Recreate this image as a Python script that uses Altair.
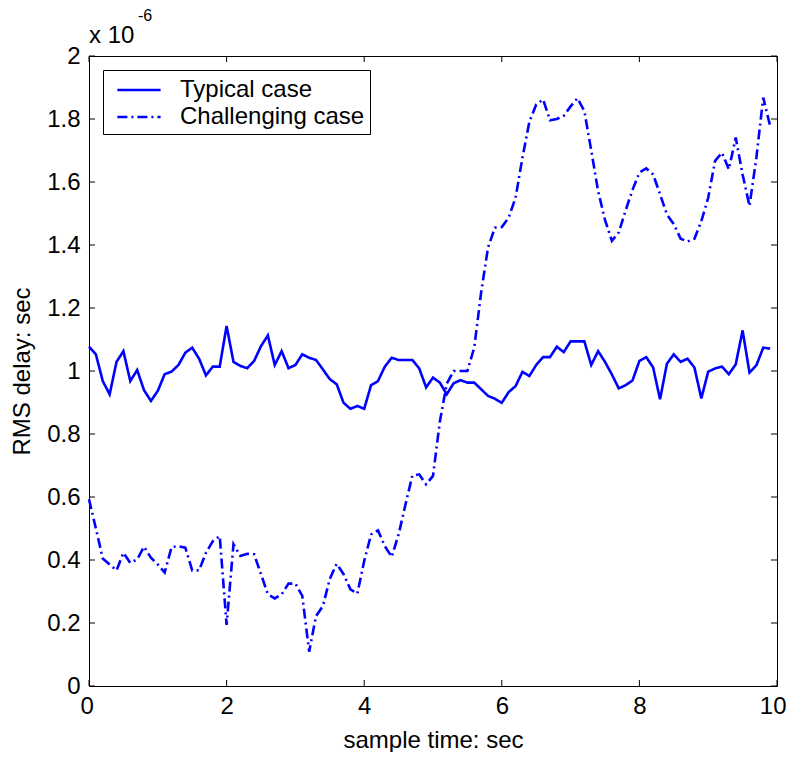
import altair as alt
import pandas as pd

t_vals = [round(i * 0.1, 1) for i in range(100)]

typical = [
    1.077, 1.053, 0.968, 0.926, 1.029, 1.063, 0.968, 1.003, 0.939, 0.905,
    0.937, 0.990, 0.998, 1.019, 1.058, 1.074, 1.039, 0.986, 1.014, 1.014,
    1.143, 1.029, 1.016, 1.009, 1.032, 1.079, 1.113, 1.019, 1.063, 1.009,
    1.019, 1.053, 1.042, 1.035, 1.005, 0.974, 0.958, 0.899, 0.880, 0.889,
    0.880, 0.955, 0.968, 1.014, 1.042, 1.035, 1.035, 1.035, 1.008, 0.948,
    0.979, 0.963, 0.926, 0.961, 0.971, 0.963, 0.963, 0.942, 0.921, 0.912,
    0.899, 0.933, 0.952, 0.997, 0.984, 1.019, 1.044, 1.044, 1.077, 1.060,
    1.094, 1.094, 1.094, 1.019, 1.063, 1.029, 0.989, 0.945, 0.955, 0.970,
    1.032, 1.044, 1.011, 0.910, 1.023, 1.053, 1.029, 1.039, 1.011, 0.913,
    0.998, 1.008, 1.014, 0.990, 1.021, 1.129, 0.995, 1.018, 1.074, 1.071,
]

challenging = [
    0.593, 0.500, 0.405, 0.386, 0.367, 0.423, 0.391, 0.402, 0.442, 0.407,
    0.386, 0.360, 0.441, 0.444, 0.439, 0.367, 0.367, 0.423, 0.460, 0.476,
    0.194, 0.450, 0.413, 0.420, 0.418, 0.355, 0.291, 0.278, 0.291, 0.325,
    0.325, 0.286, 0.109, 0.222, 0.254, 0.340, 0.388, 0.355, 0.307, 0.293,
    0.397, 0.481, 0.494, 0.444, 0.410, 0.481, 0.576, 0.668, 0.672, 0.640,
    0.667, 0.840, 0.960, 1.000, 1.000, 1.000, 1.075, 1.250, 1.392, 1.455,
    1.457, 1.487, 1.550, 1.677, 1.790, 1.846, 1.862, 1.796, 1.800, 1.810,
    1.840, 1.866, 1.825, 1.700, 1.571, 1.480, 1.413, 1.440, 1.510, 1.575,
    1.630, 1.643, 1.624, 1.561, 1.497, 1.466, 1.420, 1.411, 1.420, 1.476,
    1.550, 1.667, 1.693, 1.640, 1.741, 1.624, 1.524, 1.677, 1.868, 1.778,
]

series_names = ["Typical case", "Challenging case"]
x_ticks = [0, 2, 4, 6, 8, 10]
y_ticks = [0, 0.2, 0.4, 0.6, 0.8, 1.0, 1.2, 1.4, 1.6, 1.8, 2.0]

W, H = 688, 630
BLUE = "#0000FF"
FONT = "Liberation Sans"

df = pd.DataFrame({
    "t": t_vals * 2,
    "v": typical + challenging,
    "series": [series_names[0]] * len(typical) + [series_names[1]] * len(challenging),
})

xscale = alt.Scale(domain=[0, 10], nice=False, zero=False)
yscale = alt.Scale(domain=[0, 2], nice=False, zero=False)

lines = alt.Chart(df).mark_line(strokeWidth=2.6, color=BLUE).encode(
    x=alt.X("t:Q", scale=xscale,
            axis=alt.Axis(title="sample time: sec", values=x_ticks, format="~g",
                          ticks=False, domain=False, grid=False,
                          labelFlush=True, labelFlushOffset=9,
                          labelPadding=8, titlePadding=10)),
    y=alt.Y("v:Q", scale=yscale,
            axis=alt.Axis(title="RMS delay: sec", values=y_ticks, format=".1~f",
                          ticks=False, domain=False, grid=False, labelFlush=False,
                          labelPadding=9, titlePadding=12)),
    strokeDash=alt.StrokeDash(
        "series:N",
        scale=alt.Scale(domain=series_names, range=[[1, 0], [10, 4, 2, 4]]),
        legend=alt.Legend(
            title=None, orient="none", legendX=14, legendY=14,
            symbolType="M-1.6,0H1.6", symbolSize=729, symbolStrokeWidth=2.6,
            symbolStrokeColor=BLUE, symbolFillColor="transparent",
            labelFontSize=24, labelFont=FONT, labelColor="black", labelLimit=500,
            labelOffset=26, symbolOffset=16,
            strokeColor="black", fillColor="white", padding=5, rowPadding=0,
        ),
    ),
    detail="series:N",
)

xt = pd.DataFrame({"xt": x_ticks})
yt = pd.DataFrame({"yt": y_ticks})

xtick_bottom = alt.Chart(xt).mark_rule(color="black", strokeWidth=1).encode(
    x=alt.X("xt:Q", scale=xscale), y=alt.value(H), y2=alt.value(H - 6))
xtick_top = alt.Chart(xt).mark_rule(color="black", strokeWidth=1).encode(
    x=alt.X("xt:Q", scale=xscale), y=alt.value(0), y2=alt.value(6))
ytick_left = alt.Chart(yt).mark_rule(color="black", strokeWidth=1).encode(
    y=alt.Y("yt:Q", scale=yscale), x=alt.value(0), x2=alt.value(6))
ytick_right = alt.Chart(yt).mark_rule(color="black", strokeWidth=1).encode(
    y=alt.Y("yt:Q", scale=yscale), x=alt.value(W), x2=alt.value(W - 6))

mult = alt.Chart(pd.DataFrame({"s": ["x 10"]})).mark_text(
    font=FONT, fontSize=24, align="left", baseline="middle", color="black"
).encode(text="s:N", x=alt.value(0), y=alt.value(-20))
expo = alt.Chart(pd.DataFrame({"s": ["-6"]})).mark_text(
    font=FONT, fontSize=16, align="left", baseline="middle", color="black"
).encode(text="s:N", x=alt.value(49), y=alt.value(-40))

chart = alt.layer(
    lines, xtick_bottom, xtick_top, ytick_left, ytick_right, mult, expo
).properties(
    width=W, height=H, background="white",
    padding={"left": 2, "top": 0, "right": 0, "bottom": 0},
).configure_view(
    stroke="black", strokeWidth=1
).configure_axis(
    labelFont=FONT, titleFont=FONT, labelFontSize=24, titleFontSize=24,
    titleFontWeight="normal", labelColor="black", titleColor="black",
)

chart.save("out.html", embed_options={"renderer": "svg", "actions": False})
